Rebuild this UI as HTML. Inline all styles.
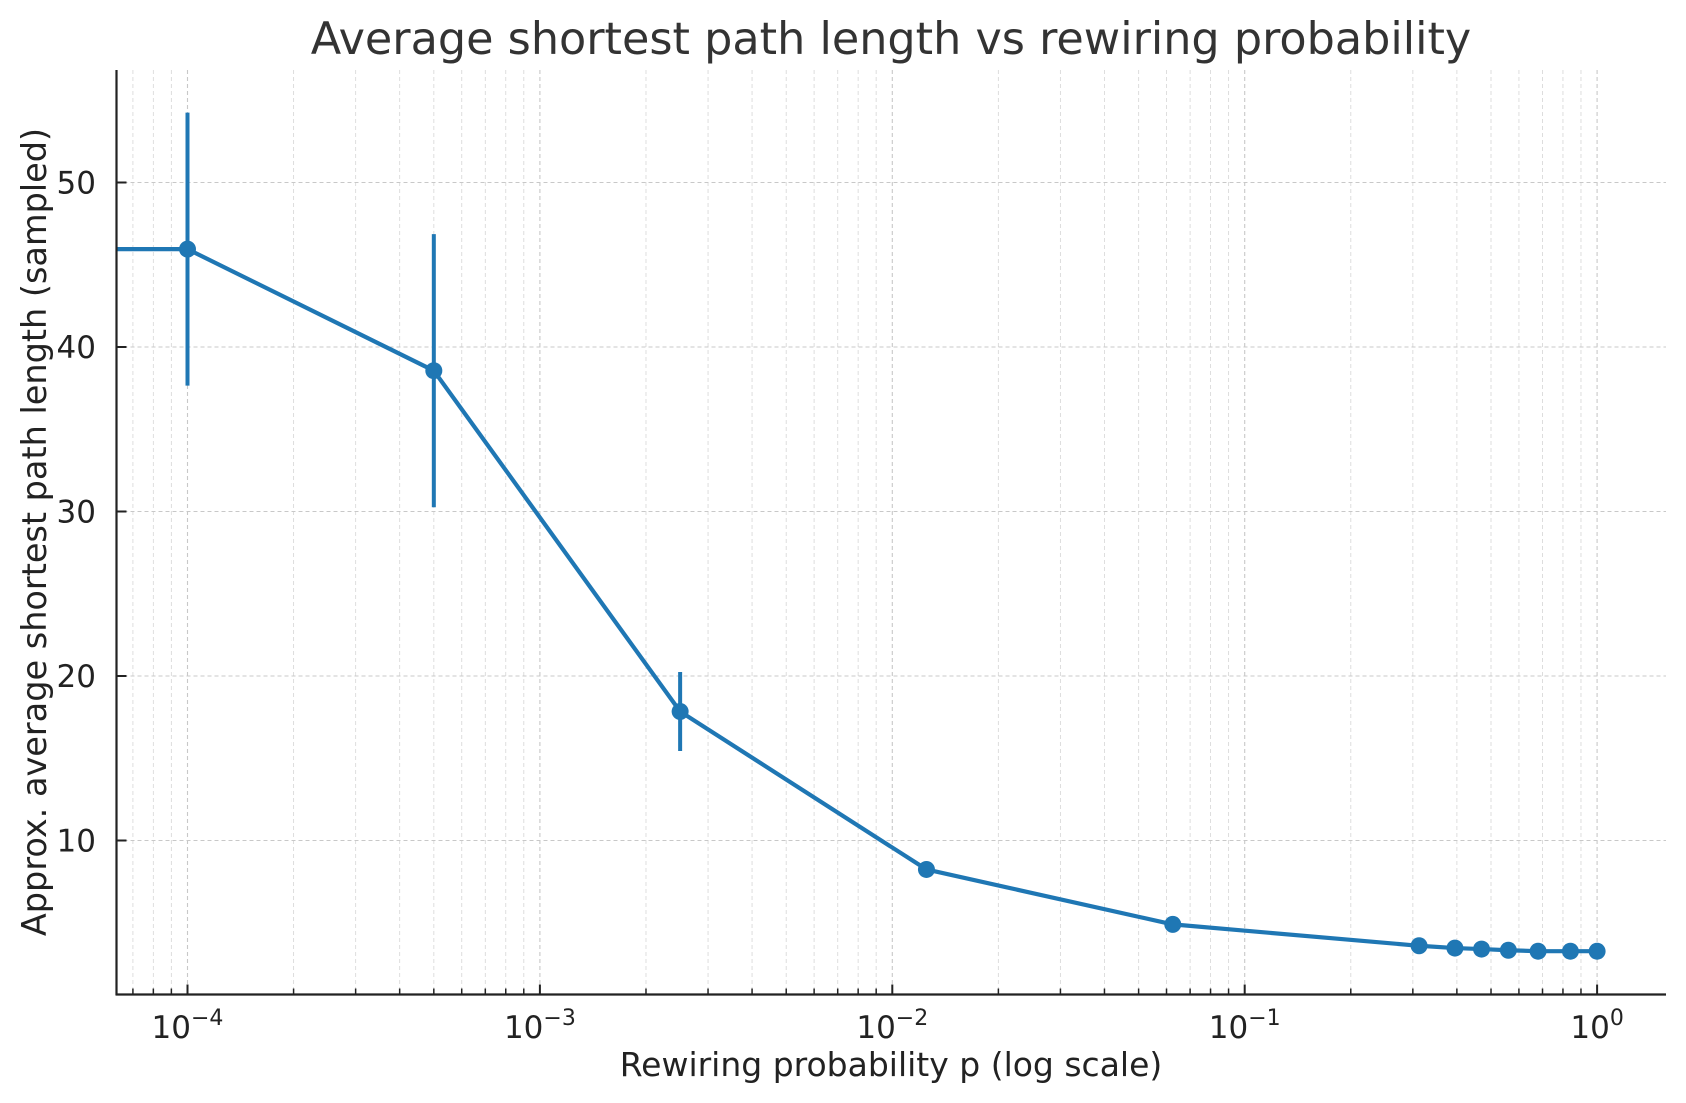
<!DOCTYPE html>
<html><head><meta charset="utf-8"><style>
html,body{margin:0;padding:0;background:#fff;}
svg{display:block;font-family:"DejaVu Sans","Liberation Sans",sans-serif;}
</style></head><body>
<svg id="chart" width="1686" height="1103" viewBox="0 0 1686 1103">
<g id="grid"></g>
<g id="ticks"></g>
<g id="series" clip-path="url(#clip)"></g>
<defs><clipPath id="clip"><rect x="116" y="70" width="1550" height="924"/></clipPath></defs>
<line x1="116.5" y1="70" x2="116.5" y2="995" stroke="#222" stroke-width="2.2"/>
<line x1="115.5" y1="994.5" x2="1666" y2="994.5" stroke="#222" stroke-width="2.2"/>
<text x="891" y="54" font-size="44.5" text-anchor="middle" fill="#333">Average shortest path length vs rewiring probability</text>
<text x="891" y="1076" font-size="33" text-anchor="middle" fill="#222">Rewiring probability p (log scale)</text>
<text transform="translate(46,532) rotate(-90)" font-size="33.5" text-anchor="middle" fill="#222">Approx. average shortest path length (sampled)</text>
</svg>
<script>
const pValues = [0, 0.0001, 0.0005, 0.0025, 0.0125, 0.0625, 0.3125, 0.395, 0.47, 0.56, 0.68, 0.84, 1.0];
const meanLengths = [45.95, 45.95, 38.56, 17.84, 8.24, 4.9, 3.6, 3.46, 3.4, 3.33, 3.27, 3.27, 3.27];
const errors = [8.3, 8.3, 8.3, 2.4, 0.4, 0.15, 0.1, 0.1, 0.1, 0.1, 0.1, 0.1, 0.1];
const yTicks = [10, 20, 30, 40, 50];
const xTickExps = [-4, -3, -2, -1, 0];

const NS = 'http://www.w3.org/2000/svg';
const L = 116.5, R = 1666, T = 70, B = 994.5;
const X0 = 187.5, DEC = 352.4;
const Y50 = 182.5, PPU = 16.45;
function xs(p){ if(p<=0) return L-10; return X0 + (Math.log10(p)+4)*DEC; }
function ys(v){ return Y50 + (50-v)*PPU; }
function mk(tag, attrs, parent){ const e=document.createElementNS(NS,tag); for(const k in attrs) e.setAttribute(k,attrs[k]); parent.appendChild(e); return e; }
const grid=document.getElementById('grid'), ticks=document.getElementById('ticks'), series=document.getElementById('series'), svg=document.getElementById('chart');

for(let e=-5;e<=0;e++){
  for(let m=1;m<=9;m++){
    const p=m*Math.pow(10,e); const x=xs(p);
    if(x<L+1||x>R) continue;
    const major = m===1;
    const g=mk('line',{x1:x,y1:T,x2:x,y2:B,stroke:major?'#c8c8c8':'#dadada','stroke-width':major?1.1:0.9,'stroke-dasharray':'4,3'},grid);
    
    
    const t=mk('line',{x1:x,y1:B,x2:x,y2:B-(major?10:6),stroke:'#222','stroke-width':major?2:1.5},ticks);
    
    
  }
}
xTickExps.forEach(e=>{
  const x=xs(Math.pow(10,e));
  const tx=mk('text',{x:x,y:1038,'font-size':31,'text-anchor':'middle',fill:'#222'},svg);
  
  
  tx.appendChild(document.createTextNode('10'));
  const sup=mk('tspan',{dy:-13,'font-size':22},tx);
  sup.textContent = e===0 ? '0' : '\u2212'+Math.abs(e);
});
yTicks.forEach(v=>{
  const y=ys(v);
  const g=mk('line',{x1:L,y1:y,x2:R,y2:y,stroke:'#c8c8c8','stroke-width':1.1,'stroke-dasharray':'4,3'},grid);
  
  
  const t=mk('line',{x1:L,y1:y,x2:L+10,y2:y,stroke:'#222','stroke-width':2},ticks);
  
  
  const tx=mk('text',{x:96,y:y+11,'font-size':31,'text-anchor':'end',fill:'#222'},svg);
  
  
  tx.textContent=v;
});
pValues.forEach((p,i)=>{
  if(p<=0) return;
  const x=xs(p);
  const eb=mk('line',{x1:x,y1:ys(meanLengths[i]+errors[i]),x2:x,y2:ys(meanLengths[i]-errors[i]),stroke:'#1f77b4','stroke-width':4},series);
  
  
});
const pts=pValues.map((p,i)=>xs(p)+','+ys(meanLengths[i])).join(' ');
const pl=mk('polyline',{points:pts,fill:'none',stroke:'#1f77b4','stroke-width':4.2,'stroke-linejoin':'round'},series);


pValues.forEach((p,i)=>{
  if(p<=0) return;
  const c=mk('circle',{cx:xs(p),cy:ys(meanLengths[i]),r:8.5,fill:'#1f77b4'},series);
  
  
});
</script>
</body></html>
